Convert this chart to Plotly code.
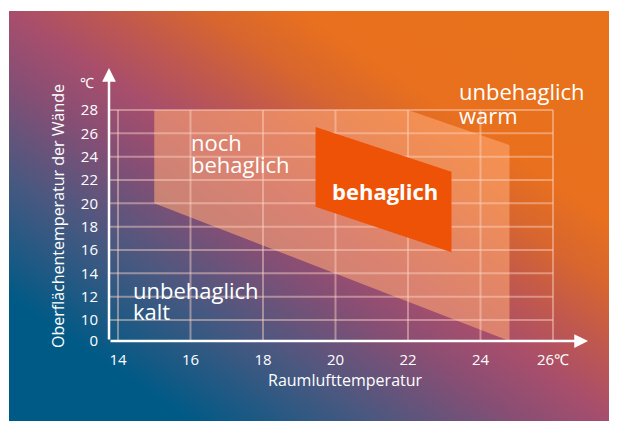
import base64
import plotly.graph_objects as go

# ---------------- data ----------------
X_TICKS = [14, 16, 18, 20, 22, 24, 26]
X_TICK_TEXT = ["14", "16", "18", "20", "22", "24", "26℃"]
Y_TICK_VALUES = [0, 10, 12, 14, 16, 18, 20, 22, 24, 26, 28]
Y_TICK_TEXT = ["0", "10", "12", "14", "16", "18", "20", "22", "24", "26", "28"]

# "noch behaglich" band (room air temp, wall surface temp)
noch_x = [15, 22, 24.8, 24.8, 15]
noch_y = [28, 28, 25, 0, 20]
# "behaglich" core zone
beh_x = [19.45, 23.2, 23.2, 19.45]
beh_y = [26.55, 22.7, 15.8, 19.7]

# broken y axis: the value 0 sits at the axis, one (slightly shortened) step below 10
Y_ZERO_POS = 8.2
X_MIN, X_MAX = 13.752, 26.966
Y_MIN, Y_MAX = Y_ZERO_POS, 31.6


def ypos(v):
    return Y_ZERO_POS if v == 0 else v


FONT = "Open Sans"

# page has an 8px body margin; figure sized to fit the 617x421 window
FIG_W, FIG_H = 609, 413
ML, MR, MT, MB = 101, 29, 60, 80
PW, PH = FIG_W - ML - MR, FIG_H - MT - MB
OFF = 8


def px(wx):  # window pixel -> paper (plot-area relative)
    return (wx - OFF - ML) / PW


def py(wy):
    return 1 - (wy - OFF - MT) / PH


# ---------------- background gradient (svg data uri) ----------------
stops = [
    (0.00, "#005A86"), (0.15, "#005A86"), (0.30, "#4A5880"), (0.42, "#884E74"),
    (0.50, "#A84E6C"), (0.58, "#C0584E"), (0.66, "#D8662E"), (0.74, "#E8701E"),
    (1.00, "#E8721A"),
]
stop_xml = "".join(f'<stop offset="{o}" stop-color="{c}"/>' for o, c in stops)
svg = (
    '<svg xmlns="http://www.w3.org/2000/svg" width="608" height="410" '
    'viewBox="0 0 608 410" preserveAspectRatio="none"><defs>'
    f'<linearGradient id="g" x1="0" y1="1" x2="1" y2="0">{stop_xml}</linearGradient>'
    '</defs><rect width="608" height="410" fill="url(#g)"/></svg>'
)
svg_uri = "data:image/svg+xml;base64," + base64.b64encode(svg.encode()).decode()

fig = go.Figure()

# light "noch behaglich" polygon
fig.add_trace(go.Scatter(
    x=noch_x, y=[ypos(v) for v in noch_y], fill="toself", mode="none",
    fillcolor="rgba(255,168,118,0.58)", hoverinfo="skip", showlegend=False,
))

# grid lines (only inside the chart frame)
gx, gy = [], []
for xv in X_TICKS:
    gx += [xv, xv, None]
    gy += [Y_ZERO_POS, max(Y_TICK_VALUES), None]
for yv in Y_TICK_VALUES:
    if yv == 0:
        continue
    gx += [X_MIN, max(X_TICKS), None]
    gy += [yv, yv, None]
fig.add_trace(go.Scatter(
    x=gx, y=gy, mode="lines", line=dict(color="rgba(255,215,200,0.45)", width=2),
    hoverinfo="skip", showlegend=False,
))

# orange "behaglich" polygon
fig.add_trace(go.Scatter(
    x=beh_x, y=beh_y, fill="toself", mode="none",
    fillcolor="#EE5206", hoverinfo="skip", showlegend=False,
))

annotations = []
# axis arrows
annotations.append(dict(x=X_MAX, y=Y_ZERO_POS, ax=X_MIN, ay=Y_ZERO_POS,
                        xref="x", yref="y", axref="x", ayref="y", text="",
                        showarrow=True, arrowhead=2, arrowsize=1.1, arrowwidth=2.5,
                        arrowcolor="white", standoff=0, startstandoff=0))
annotations.append(dict(x=X_MIN, y=Y_MAX, ax=X_MIN, ay=Y_ZERO_POS,
                        xref="x", yref="y", axref="x", ayref="y", text="",
                        showarrow=True, arrowhead=2, arrowsize=1.1, arrowwidth=2.5,
                        arrowcolor="white", standoff=0, startstandoff=0))

white = "white"


def label(text, x, y, size=22, bold=False, xanchor="left"):
    annotations.append(dict(
        x=x, y=y, xref="x", yref="y", text=f"<b>{text}</b>" if bold else text,
        showarrow=False, xanchor=xanchor, yanchor="middle",
        font=dict(family=FONT, size=size, color=white), borderpad=0,
    ))


label("noch", 16.0, 25.3)
label("behaglich", 16.0, 23.4)
label("unbehaglich", 23.37, 29.6)
label("warm", 23.37, 27.6)
label("unbehaglich", 14.4, 12.6)
label("kalt", 14.4, 10.73)
label("behaglich", 21.37, 21.07, bold=True, xanchor="center")

# unit label on y axis
annotations.append(dict(x=px(86.5), y=py(82), xref="paper", yref="paper",
                        text="℃", showarrow=False, xanchor="center", yanchor="middle",
                        font=dict(family=FONT, size=14, color=white)))
# axis titles
annotations.append(dict(x=px(58), y=py(216), xref="paper", yref="paper",
                        text="Oberflächentemperatur der Wände", textangle=-90,
                        showarrow=False, xanchor="center", yanchor="middle",
                        font=dict(family=FONT, size=16, color=white)))
annotations.append(dict(x=px(345.5), y=py(380), xref="paper", yref="paper",
                        text="Raumlufttemperatur",
                        showarrow=False, xanchor="center", yanchor="middle",
                        font=dict(family=FONT, size=16, color=white)))

fig.update_layout(
    width=FIG_W, height=FIG_H,
    margin=dict(l=ML, r=MR, t=MT, b=MB),
    paper_bgcolor="white", plot_bgcolor="rgba(0,0,0,0)",
    images=[dict(source=svg_uri, xref="paper", yref="paper",
                 x=px(9), y=py(11), sizex=608 / PW, sizey=410 / PH,
                 xanchor="left", yanchor="top", sizing="stretch", layer="below")],
    annotations=annotations,
    font=dict(family=FONT, color=white),
    showlegend=False,
)
fig.update_xaxes(range=[X_MIN, X_MAX], tickvals=X_TICKS, ticktext=X_TICK_TEXT,
                 showgrid=False, zeroline=False, showline=False, ticks="",
                 ticklabelstandoff=8, tickfont=dict(family=FONT, size=15, color=white),
                 fixedrange=True)
fig.update_yaxes(range=[Y_MIN, Y_MAX], tickvals=[ypos(v) for v in Y_TICK_VALUES],
                 ticktext=Y_TICK_TEXT,
                 showgrid=False, zeroline=False, showline=False, ticks="",
                 ticklabelstandoff=10, tickfont=dict(family=FONT, size=15, color=white),
                 fixedrange=True)

fig.write_html("out.html", config={"displayModeBar": False})
